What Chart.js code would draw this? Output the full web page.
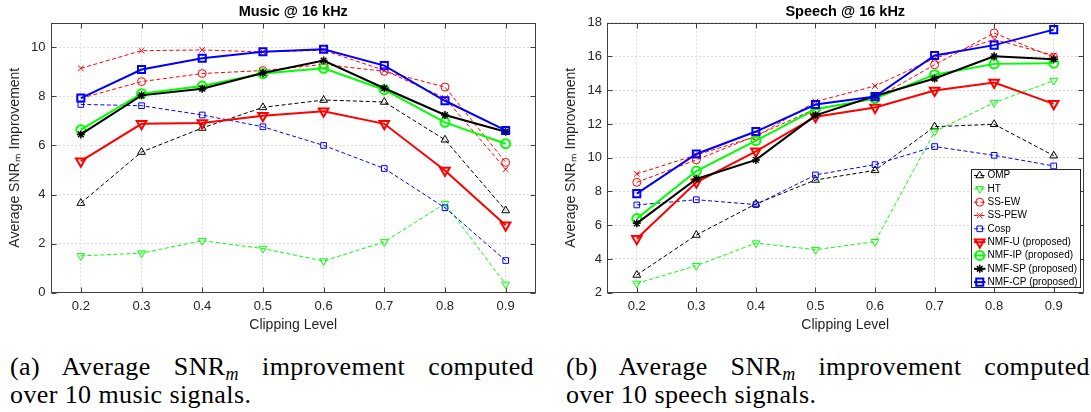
<!DOCTYPE html>
<html>
<head>
<meta charset="utf-8">
<script src="https://cdn.jsdelivr.net/npm/chart.js"></script>
<style>
  body { margin: 0; background: #fff; width: 1091px; height: 412px; position: relative; overflow: hidden; }
  .painel { position: absolute; top: 0; }
  .legenda { position: absolute; top: 353px; width: 524px; font-family: "Liberation Serif", "Times New Roman", serif; font-size: 26px; line-height: 28px; color: #000; letter-spacing: 0.4px; }
  .linha1 { text-align: justify; text-align-last: justify; }
  .legenda sub { font-size: 18px; font-style: italic; vertical-align: -5px; line-height: 0; }
</style>
</head>
<body>
<div class="painel" style="left:0"><canvas id="graficoMusica" width="545" height="340"></canvas></div>
<div class="painel" style="left:545px"><canvas id="graficoFala" width="546" height="340"></canvas></div>
<div class="legenda" style="left:10px">
  <div class="linha1">(a) Average SNR<sub>m</sub> improvement computed</div>
  <div>over 10 music signals.</div>
</div>
<div class="legenda" style="left:566px">
  <div class="linha1">(b) Average SNR<sub>m</sub> improvement computed</div>
  <div>over 10 speech signals.</div>
</div>
<script>
// clipping levels (x axis)
const niveis = ['0.2', '0.3', '0.4', '0.5', '0.6', '0.7', '0.8', '0.9']
const nomes = ['OMP', 'HT', 'SS-EW', 'SS-PEW', 'Cosp', 'NMF-U (proposed)', 'NMF-IP (proposed)', 'NMF-SP (proposed)', 'NMF-CP (proposed)']

// Music @ 16 kHz
const musicaOMP = [3.65, 5.73, 6.71, 7.55, 7.85, 7.77, 6.23, 3.35]
const musicaHT = [1.50, 1.61, 2.12, 1.80, 1.29, 2.07, 3.63, 0.34]
const musicaSSEW = [7.92, 8.60, 8.93, 9.05, 9.30, 9.02, 8.38, 5.31]
const musicaSSPEW = [9.14, 9.86, 9.89, 9.81, 9.88, 9.06, 7.93, 5.03]
const musicaCosp = [7.67, 7.62, 7.24, 6.76, 6.00, 5.06, 3.46, 1.31]
const musicaNMFU = [5.36, 6.88, 6.91, 7.21, 7.39, 6.88, 4.98, 2.75]
const musicaNMFIP = [6.64, 8.11, 8.42, 8.93, 9.14, 8.27, 6.94, 6.07]
const musicaNMFSP = [6.45, 8.04, 8.31, 8.95, 9.46, 8.33, 7.24, 6.56]
const musicaNMFCP = [7.93, 9.09, 9.55, 9.82, 9.92, 9.25, 7.82, 6.61]

// Speech @ 16 kHz
const falaOMP = [3.05, 5.42, 7.26, 8.68, 9.25, 11.84, 11.98, 10.12]
const falaHT = [2.55, 3.60, 4.94, 4.55, 5.02, 11.55, 13.26, 14.57]
const falaSSEW = [8.54, 9.87, 11.29, 12.90, 13.50, 15.51, 17.39, 15.95]
const falaSSPEW = [9.04, 10.16, 11.25, 13.32, 14.25, 15.89, 17.00, 16.06]
const falaCosp = [7.20, 7.51, 7.22, 8.98, 9.59, 10.66, 10.14, 9.51]
const falaNMFU = [5.20, 8.54, 10.38, 12.43, 12.97, 13.98, 14.45, 13.19]
const falaNMFIP = [6.39, 9.21, 11.01, 12.87, 13.50, 14.92, 15.56, 15.60]
const falaNMFSP = [6.11, 8.74, 9.87, 12.51, 13.66, 14.69, 16.01, 15.83]
const falaNMFCP = [7.87, 10.22, 11.55, 13.15, 13.62, 16.06, 16.67, 17.59]

// line / marker style per method
const estilos = [
    { cor: '#000000', marcador: 'triangle', rot: 0, raio: 4.5, traco: [4, 2.5], largura: 1, borda: 1 },
    { cor: '#00ff00', marcador: 'triangle', rot: 180, raio: 4.5, traco: [4, 2.5], largura: 1, borda: 1 },
    { cor: '#ff0000', marcador: 'circle', rot: 0, raio: 4, traco: [4, 2.5], largura: 1, borda: 1 },
    { cor: '#ff0000', marcador: 'crossRot', rot: 0, raio: 4, traco: [4, 2.5], largura: 1, borda: 1 },
    { cor: '#0000ff', marcador: 'rect', rot: 0, raio: 4, traco: [4, 2.5], largura: 1, borda: 1 },
    { cor: '#ff0000', marcador: 'triangle', rot: 180, raio: 5.5, traco: [], largura: 2, borda: 2 },
    { cor: '#00ff00', marcador: 'circle', rot: 0, raio: 4.5, traco: [], largura: 2, borda: 2 },
    { cor: '#000000', marcador: 'star', rot: 0, raio: 4, traco: [], largura: 2, borda: 1.5 },
    { cor: '#0000ff', marcador: 'rect', rot: 0, raio: 5, traco: [], largura: 2, borda: 2 }
]

Chart.defaults.font.family = '"Liberation Sans", Arial, sans-serif'
Chart.defaults.color = '#262626'

// box, inward ticks, title and the in-plot legend (MATLAB look)
const moldura = {
    id: 'moldura',
    beforeDatasetsDraw(chart, args, opts) {
        const { ctx, chartArea: a, scales: { x, y } } = chart
        const l = Math.round(a.left) + 0.5, r = Math.round(a.right) - 0.5
        const t = Math.round(a.top) + 0.5, b = Math.round(a.bottom) - 0.5
        ctx.save()
        ctx.strokeStyle = '#404040'
        ctx.lineWidth = 1
        ctx.setLineDash([])
        ctx.strokeRect(l, t, r - l, b - t)
        ctx.beginPath()
        x.ticks.forEach((tk, i) => {
            const px = Math.round(x.getPixelForTick(i)) + 0.5
            ctx.moveTo(px, b); ctx.lineTo(px, b - 5)
            ctx.moveTo(px, t); ctx.lineTo(px, t + 5)
        })
        y.ticks.forEach((tk, i) => {
            const py = Math.round(y.getPixelForTick(i)) + 0.5
            ctx.moveTo(l, py); ctx.lineTo(l + 5, py)
            ctx.moveTo(r, py); ctx.lineTo(r - 5, py)
        })
        ctx.stroke()
        ctx.fillStyle = '#000'
        ctx.font = 'bold 14.5px "Liberation Sans", Arial, sans-serif'
        ctx.textAlign = 'center'
        ctx.textBaseline = 'middle'
        ctx.fillText(opts.titulo, (a.left + a.right) / 2, 12)
        ctx.restore()
    },
    afterDraw(chart, args, opts) {
        if (!opts.legenda) return
        const { ctx, chartArea: a } = chart
        const w = 109, h = 118
        const x0 = Math.round(a.right - 3.5 - w) + 0.5
        const y0 = Math.round(a.bottom - 6 - h) + 0.5
        ctx.save()
        ctx.fillStyle = '#fff'
        ctx.fillRect(x0, y0, w, h)
        ctx.strokeStyle = '#262626'
        ctx.lineWidth = 1
        ctx.setLineDash([])
        ctx.strokeRect(x0, y0, w, h)
        chart.data.datasets.forEach((ds, i) => {
            const yy = y0 + 6 + i * 13.33
            ctx.strokeStyle = ds.borderColor
            ctx.lineWidth = ds.borderWidth
            ctx.setLineDash(ds.borderDash)
            ctx.beginPath()
            ctx.moveTo(x0 + 2.5, yy)
            ctx.lineTo(x0 + 14, yy)
            ctx.stroke()
            ctx.setLineDash([])
            ctx.fillStyle = 'rgba(0,0,0,0)'
            ctx.lineWidth = ds.pointBorderWidth
            Chart.helpers.drawPoint(ctx, {
                pointStyle: ds.pointStyle, rotation: ds.pointRotation,
                radius: ds.pointRadius, borderWidth: ds.pointBorderWidth
            }, x0 + 8.25, yy)
            ctx.fillStyle = '#000'
            ctx.font = '10px "Liberation Sans", Arial, sans-serif'
            ctx.textAlign = 'left'
            ctx.textBaseline = 'middle'
            ctx.fillText(ds.label, x0 + 16, yy)
        })
        ctx.restore()
    }
}

function montarSeries(series) {
    return series.map((valores, i) => {
        const e = estilos[i]
        return {
            label: nomes[i],
            data: valores,
            borderColor: e.cor,
            borderWidth: e.largura,
            borderDash: e.traco,
            pointStyle: e.marcador,
            pointRotation: e.rot,
            pointRadius: e.raio,
            pointBorderWidth: e.borda,
            pointBorderColor: e.cor,
            pointBackgroundColor: 'rgba(0,0,0,0)',
            tension: 0,
            fill: false,
            order: series.length - 1 - i
        }
    })
}

function criarGrafico(canvas, titulo, series, yMin, yMax, larguraY, padTituloY, padDireita, legenda) {
    return new Chart(canvas, {
        type: 'line',
        data: { labels: niveis, datasets: montarSeries(series) },
        options: {
            responsive: false,
            animation: false,
            devicePixelRatio: 1,
            layout: { padding: { top: 22.7, right: padDireita, bottom: 0, left: 0 } },
            plugins: {
                legend: { display: false },
                tooltip: { enabled: false },
                moldura: { titulo: titulo, legenda: legenda }
            },
            scales: {
                x: {
                    type: 'category',
                    offset: true,
                    grid: { offset: false, color: '#dcdcdc', drawTicks: false },
                    border: { display: false, dash: [2, 2] },
                    ticks: { padding: 6, font: { size: 13 }, color: '#262626' },
                    title: { display: true, text: 'Clipping Level', font: { size: 14 }, color: '#262626', padding: { top: 0, bottom: 6.6 } },
                    afterFit: s => { s.height = 47.3 }
                },
                y: {
                    min: yMin,
                    max: yMax,
                    grid: { color: '#dcdcdc', drawTicks: false },
                    border: { display: false, dash: [2, 2] },
                    ticks: { stepSize: 2, includeBounds: false, padding: 5, font: { size: 13 }, color: '#262626' },
                    title: { display: true, text: 'Average SNRₘ Improvement', font: { size: 14 }, color: '#262626', padding: { top: padTituloY, bottom: 0 } },
                    afterFit: s => { s.width = larguraY }
                }
            }
        },
        plugins: [moldura]
    })
}

const graficoMusica = criarGrafico(document.getElementById('graficoMusica'), 'Music @ 16 kHz',
    [musicaOMP, musicaHT, musicaSSEW, musicaSSPEW, musicaCosp, musicaNMFU, musicaNMFIP, musicaNMFSP, musicaNMFCP],
    0, 11, 50.5, 7.2, 9, false)

const graficoFala = criarGrafico(document.getElementById('graficoFala'), 'Speech @ 16 kHz',
    [falaOMP, falaHT, falaSSEW, falaSSPEW, falaCosp, falaNMFU, falaNMFIP, falaNMFSP, falaNMFCP],
    2, 18, 62, 17.6, 2, true)
</script>
</body>
</html>
